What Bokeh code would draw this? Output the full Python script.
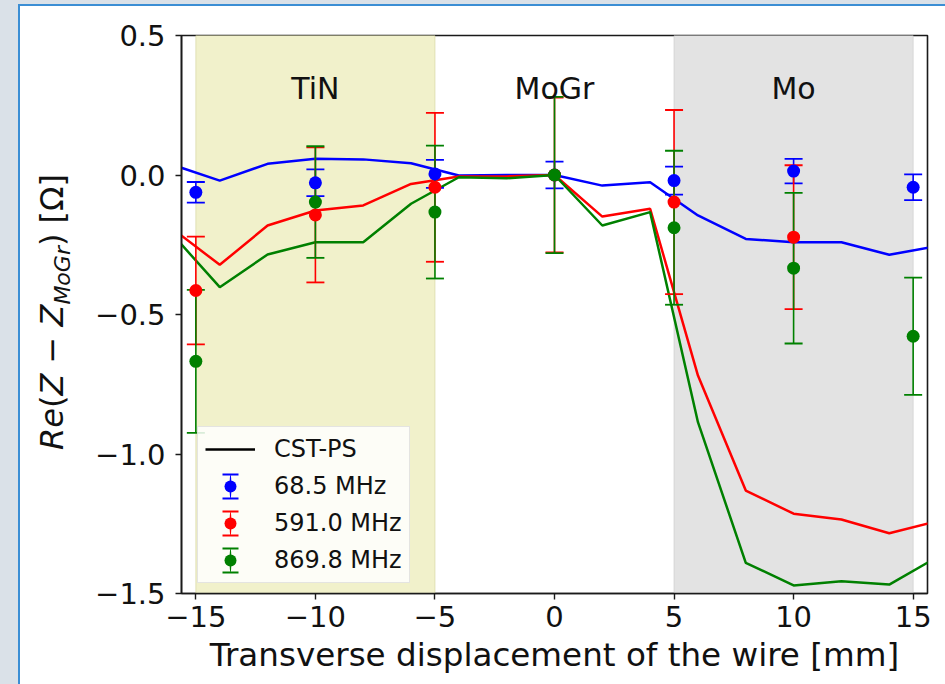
from bokeh.plotting import figure
from bokeh.models import (ColumnDataSource, BoxAnnotation, Label, Legend, LegendItem,
                          FixedTicker, Range1d, Div)
from bokeh.layouts import column, row
from bokeh.embed import file_html
from bokeh.resources import INLINE

# CST-PS simulation, sampled every 2 mm
sim_x = [-16, -14, -12, -10, -8, -6, -4, -2, 0, 2, 4, 6, 8, 10, 12, 14, 16]
sim_68 = [0.037, -0.020, 0.040, 0.058, 0.056, 0.042, -0.002, 0.0, 0.0,
          -0.038, -0.026, -0.145, -0.229, -0.241, -0.241, -0.286, -0.255]
sim_591 = [-0.191, -0.322, -0.181, -0.127, -0.109, -0.032, -0.005, -0.005, 0.0,
           -0.149, -0.121, -0.719, -1.131, -1.214, -1.235, -1.284, -1.241]
sim_870 = [-0.211, -0.402, -0.285, -0.241, -0.241, -0.103, -0.008, -0.012, 0.0,
           -0.181, -0.133, -0.886, -1.390, -1.471, -1.456, -1.468, -1.370]

# wire measurements with their uncertainties
meas_x_68 = [-15, -10, -5, 0, 5, 10, 15]
meas_68 = [-0.062, -0.028, 0.004, 0.0, -0.020, 0.014, -0.044]
err_68 = [0.037, 0.048, 0.050, 0.048, 0.050, 0.044, 0.046]

meas_x_591 = [-15, -10, -5, 0, 5, 10]
meas_591 = [-0.414, -0.143, -0.044, 0.0, -0.097, -0.223]
err_591 = [0.193, 0.242, 0.267, 0.277, 0.330, 0.258]

meas_x_870 = [-15, -10, -5, 0, 5, 10, 15]
meas_870 = [-0.668, -0.097, -0.133, 0.0, -0.189, -0.334, -0.578]
err_870 = [0.256, 0.200, 0.238, 0.280, 0.276, 0.270, 0.210]

freq_labels = ["68.5 MHz", "591.0 MHz", "869.8 MHz"]
colors = ["#0000ff", "#ff0000", "#008000"]

# coated sections of the chamber
region_names = ["TiN", "MoGr", "Mo"]
region_centers = [-10, 0, 10]
tin_span = (-15, -5)
mo_span = (5, 15)

x_ticks = [-15, -10, -5, 0, 5, 10, 15]
y_ticks = [0.5, 0.0, -0.5, -1.0, -1.5]

FONT = "DejaVu Sans"
TXT = "#111111"


def minus(s):
    return s.replace("-", "\u2212")


p = figure(frame_width=746, frame_height=558,
           x_range=Range1d(-15.6, 15.6), y_range=Range1d(-1.5, 0.5),
           output_backend="svg", toolbar_location=None,
           min_border_left=101, min_border_right=18, min_border_top=29,
           min_border_bottom=95, margin=0,
           background_fill_color="white", border_fill_color="white")
p.grid.visible = False
p.outline_line_color = "#1a1a1a"
p.outline_line_width = 1.6

for ax in (p.xaxis[0], p.yaxis[0]):
    ax.axis_line_color = "#1a1a1a"
    ax.axis_line_width = 1.6
    ax.major_tick_in = 0
    ax.major_tick_out = 6
    ax.major_tick_line_width = 1.4
    ax.major_tick_line_color = "#1a1a1a"
    ax.minor_tick_line_color = None
    ax.major_label_text_font = FONT
    ax.major_label_text_font_size = "29px"
    ax.major_label_text_color = TXT

p.xaxis.ticker = FixedTicker(ticks=x_ticks)
p.xaxis.major_label_overrides = {t: minus(str(t)) for t in x_ticks}
p.xaxis.major_label_standoff = 6
p.xaxis.axis_label = "Transverse displacement of the wire [mm]"
p.xaxis.axis_label_text_font = FONT
p.xaxis.axis_label_text_font_size = "32.6px"
p.xaxis.axis_label_text_font_style = "normal"
p.xaxis.axis_label_text_color = TXT
p.xaxis.axis_label_standoff = 6

p.yaxis.ticker = FixedTicker(ticks=y_ticks)
p.yaxis.major_label_overrides = {t: minus(f"{t:.1f}") for t in y_ticks}
p.yaxis.major_label_standoff = 10

# shaded coating sections
p.add_layout(BoxAnnotation(left=tin_span[0], right=tin_span[1], fill_color="#f1f1cb",
                           fill_alpha=1.0, line_color="#d9d9a6", line_alpha=0.7,
                           level="underlay"))
p.add_layout(BoxAnnotation(left=mo_span[0], right=mo_span[1], fill_color="#e3e3e3",
                           fill_alpha=1.0, line_color="#cfcfcf", line_alpha=0.7,
                           level="underlay"))

for name, cx in zip(region_names, region_centers):
    p.add_layout(Label(x=cx, y=0.31, text=name, text_align="center",
                       text_baseline="middle", text_font=FONT,
                       text_font_size="30px", text_color=TXT))

# simulated curves
for ys, c in zip([sim_68, sim_591, sim_870], colors):
    p.line(x="x", y="y", source=ColumnDataSource(dict(x=sim_x, y=ys)),
           line_color=c, line_width=2.5)

# black legend key for the simulation (no visible points of its own)
cst_key = p.line(x=sim_x, y=[float("nan")] * len(sim_x), line_color="black",
                 line_width=2.5)

# measured points with error bars
series = [(meas_x_68, meas_68, err_68), (meas_x_591, meas_591, err_591),
          (meas_x_870, meas_870, err_870)]
sources = []
for (xs, ys, es), c in zip(series, colors):
    src = ColumnDataSource(dict(x=xs, y=ys,
                                lo=[y - e for y, e in zip(ys, es)],
                                hi=[y + e for y, e in zip(ys, es)]))
    sources.append(src)
    p.segment(x0="x", y0="lo", x1="x", y1="hi", source=src, line_color=c, line_width=1.6)
    p.scatter(x="x", y="hi", source=src, marker="dash", size=18, line_color=c, line_width=1.8)
    p.scatter(x="x", y="lo", source=src, marker="dash", size=18, line_color=c, line_width=1.8)

# legend keys for the error bars: capped box drawn with a dash pattern, thin stem
key_parts = []
for src, c in zip(sources, colors):
    caps = p.rect(x="x", y="y", width=0, height=0, width_units="screen",
                  height_units="screen", source=src, fill_color=None, line_color=c,
                  line_width=1.8, line_dash="16 48", line_dash_offset=52)
    stem = p.ellipse(x="x", y="y", width=0.3, height=4, width_units="screen",
                     height_units="screen", source=src, fill_color=c, line_color=None)
    key_parts.append((caps, stem))

dots = []
for src, c in zip(sources, colors):
    dots.append(p.scatter(x="x", y="y", source=src, marker="circle", size=13,
                          fill_color=c, line_color=c, line_width=0))

items = [LegendItem(label="CST-PS", renderers=[cst_key])]
for lab, (caps, stem), dot in zip(freq_labels, key_parts, dots):
    items.append(LegendItem(label=lab, renderers=[caps, stem, dot]))

legend = Legend(items=items, location=(16, 10), glyph_width=50, glyph_height=30,
                spacing=7, padding=7, margin=0, label_standoff=19,
                label_text_font=FONT, label_text_font_size="24px",
                label_text_color=TXT, label_text_baseline="middle",
                background_fill_color="white", background_fill_alpha=0.85,
                border_line_color="#cccccc", border_line_width=1)
p.add_layout(legend)

# y-axis title with a subscript
ylabel_html = (
    '<div style="position:relative;width:60px;height:678px;">'
    '<div style="position:absolute;left:35px;top:306px;'
    'transform:translate(-50%,-50%) rotate(-90deg);white-space:nowrap;'
    "font-family:'DejaVu Sans';font-size:32px;color:#111111;line-height:1;\">"
    '<i>Re</i>(<i>Z</i> \u2212 <i>Z</i><sub style="font-size:22px;">'
    '<i>MoGr</i></sub>) [\u03a9]'
    '</div></div>'
)
ylabel = Div(text=ylabel_html, width=60, height=678, margin=0,
             styles={"background-color": "white"})

panel = row(ylabel, p, spacing=0, margin=0,
            styles={"border-left": "2px solid #3b8ed4",
                    "border-top": "2px solid #3b8ed4",
                    "background-color": "white"})
root = column(panel, margin=0,
              styles={"background-color": "#dae1e8", "padding-left": "18px",
                      "padding-top": "4px"})

open("out.html", "w").write(file_html(root, INLINE))
